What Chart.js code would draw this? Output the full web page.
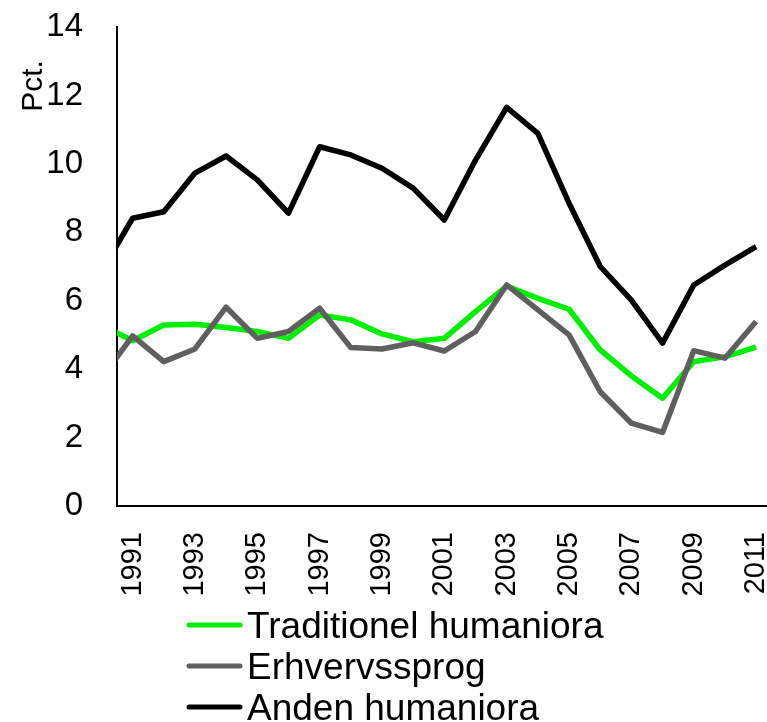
<!DOCTYPE html>
<html>
<head>
<meta charset="utf-8">
<script src="https://cdn.jsdelivr.net/npm/chart.js@4/dist/chart.umd.min.js"></script>
<style>
html,body{margin:0;padding:0;background:#fff;overflow:hidden}
canvas{display:block}
</style>
</head>
<body>
<canvas id="c" width="767" height="722"></canvas>
<script>
// ---- data ----
const years = [1990,1991,1992,1993,1994,1995,1996,1997,1998,1999,2000,2001,2002,2003,2004,2005,2006,2007,2008,2009,2010,2011];
const tickYears = [1991,1993,1995,1997,1999,2001,2003,2005,2007,2009,2011];
const seriesNames = ['Traditionel humaniora','Erhvervssprog','Anden humaniora'];
const traditionel = [5.29,4.83,5.29,5.31,5.22,5.10,4.90,5.58,5.44,5.03,4.80,4.90,5.68,6.43,6.07,5.75,4.56,3.80,3.15,4.22,4.36,4.64];
const erhvervssprog = [3.73,4.97,4.22,4.59,5.81,4.90,5.10,5.78,4.63,4.59,4.77,4.53,5.10,6.46,5.73,5.00,3.34,2.42,2.15,4.54,4.32,5.39];
const anden = [6.85,8.41,8.60,9.73,10.23,9.53,8.56,10.50,10.26,9.87,9.29,8.36,10.11,11.65,10.89,8.85,7.00,6.02,4.76,6.46,7.04,7.58];
const yAxisTitle = 'Pct.';

const FONT = '"Liberation Sans", Arial, Helvetica, sans-serif';
Chart.defaults.font.family = FONT;
Chart.defaults.color = '#000';

const yTitlePlugin = {
  id: 'yTitle',
  afterDraw(chart) {
    const ctx = chart.ctx;
    ctx.save();
    ctx.translate(42, 86);
    ctx.rotate(-Math.PI / 2);
    ctx.font = '30px ' + FONT;
    ctx.fillStyle = '#000';
    ctx.textAlign = 'center';
    ctx.textBaseline = 'alphabetic';
    ctx.fillText(yAxisTitle, 0, 0);
    ctx.restore();
  }
};

const legendPlugin = {
  id: 'stackLegend',
  afterDraw(chart) {
    const ctx = chart.ctx;
    ctx.save();
    ctx.font = '37px ' + FONT;
    ctx.textAlign = 'left';
    ctx.textBaseline = 'alphabetic';
    chart.data.datasets.forEach((ds, i) => {
      const cy = 625 + i * 41;
      ctx.strokeStyle = ds.borderColor;
      ctx.lineWidth = 5;
      ctx.lineCap = 'round';
      ctx.beginPath();
      ctx.moveTo(189, cy);
      ctx.lineTo(240, cy);
      ctx.stroke();
      ctx.fillStyle = '#000';
      ctx.fillText(ds.label, 247, cy + 13);
    });
    ctx.restore();
  }
};

const colors = ['#00f000', '#5f5f5f', '#000000'];
const values = [traditionel, erhvervssprog, anden];

new Chart(document.getElementById('c'), {
  type: 'line',
  data: {
    labels: years,
    datasets: seriesNames.map((name, i) => ({
      label: name,
      data: values[i],
      borderColor: colors[i],
      backgroundColor: colors[i],
      borderWidth: 5.5,
      borderJoinStyle: 'round',
      pointRadius: 0,
      tension: 0,
      fill: false,
      clip: 0,
      order: 2 - i
    }))
  },
  options: {
    responsive: false,
    animation: false,
    devicePixelRatio: 1,
    layout: { padding: { top: 27, right: 0, bottom: 116, left: 0 } },
    plugins: { legend: { display: false }, tooltip: { enabled: false } },
    scales: {
      x: {
        type: 'linear',
        min: 1990.5,
        max: 2011.35,
        grid: { display: false, drawTicks: false },
        border: { display: true, color: '#000', width: 2 },
        ticks: {
          autoSkip: false,
          minRotation: 90,
          maxRotation: 90,
          padding: 26,
          font: { size: 29 },
          color: '#000',
          callback: (v) => String(v)
        },
        afterBuildTicks: (s) => { s.ticks = tickYears.map(v => ({ value: v })); },
        afterFit: (s) => { s.height = 100; s.paddingLeft = 0; s.paddingRight = 0; s.paddingTop = 0; s.paddingBottom = 0; }
      },
      y: {
        min: 0,
        max: 14,
        grid: { display: false, drawTicks: false },
        border: { display: true, color: '#000', width: 2 },
        ticks: { stepSize: 2, padding: 34, font: { size: 33 }, color: '#000' },
        afterFit: (s) => { s.width = 117; s.paddingTop = 0; s.paddingBottom = 0; }
      }
    }
  },
  plugins: [yTitlePlugin, legendPlugin]
});
</script>
</body>
</html>
